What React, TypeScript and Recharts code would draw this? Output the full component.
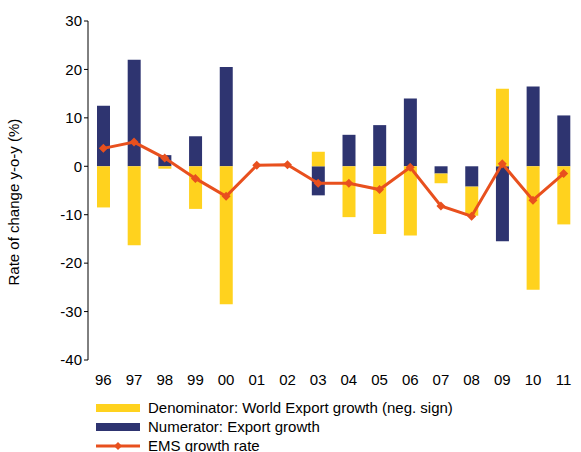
import React from "react";
import { ComposedChart, Bar, Line, XAxis, YAxis, Legend } from "recharts";

const years = ["96","97","98","99","00","01","02","03","04","05","06","07","08","09","10","11"];
const numerator = [12.5,22,2.3,6.2,20.5,0,0,-6,6.5,8.5,14,-1.5,-4.2,-15.5,16.5,10.5];
const denominator = [-8.5,-16.3,-0.5,-8.8,-28.5,0,0,3,-10.5,-14,-14.3,-2,-6,16,-25.5,-12];
const ems = [3.7,5,1.7,-2.5,-6.2,0.2,0.3,-3.5,-3.5,-4.8,-0.2,-8.2,-10.3,0.5,-7,-1.5];
const yTicks = [-40,-30,-20,-10,0,10,20,30];

const data = years.map((y, i) => ({ year: y, num: numerator[i], den: denominator[i], ems: ems[i] }));

const font = "Arial, 'Liberation Sans', sans-serif";

const LegendContent = () => (
  <div style={{ fontFamily: font, fontSize: 15, color: "#000", lineHeight: "19px", paddingLeft: 94, paddingTop: 10 }}>
    <div style={{ display: "flex", alignItems: "center" }}>
      <span style={{ width: 44, height: 8, background: "#FFD21E", display: "inline-block", marginRight: 8 }} />
      Denominator: World Export growth (neg. sign)
    </div>
    <div style={{ display: "flex", alignItems: "center" }}>
      <span style={{ width: 44, height: 8, background: "#2E3470", display: "inline-block", marginRight: 8 }} />
      Numerator: Export growth
    </div>
    <div style={{ display: "flex", alignItems: "center" }}>
      <svg width={44} height={10} style={{ marginRight: 8 }}>
        <line x1={0} y1={5} x2={44} y2={5} stroke="#E8501E" strokeWidth={3} />
        <polygon points="22,1 26,5 22,9 18,5" fill="#E8501E" />
      </svg>
      EMS growth rate
    </div>
  </div>
);

const Diamond = (p: any) => {
  const { cx, cy } = p;
  if (cx == null || cy == null) return null;
  return <polygon points={`${cx},${cy - 4.5} ${cx + 4.5},${cy} ${cx},${cy + 4.5} ${cx - 4.5},${cy}`} fill="#E8501E" />;
};

export default function App() {
  return (
    <div style={{ position: "absolute", left: 0, top: 0, background: "#fff" }}>
      <ComposedChart width={581} height={452} data={data} stackOffset="sign" barSize={13}
        margin={{ top: 21, right: 2, bottom: 0, left: 2 }}>
        <XAxis dataKey="year" axisLine={false} tickLine={false} height={28}
          tick={{ fontFamily: font, fontSize: 15, fill: "#000" }} tickMargin={8} />
        <YAxis domain={[-40, 30]} ticks={yTicks} width={86} interval={0}
          axisLine={{ stroke: "#000" }} tickLine={{ stroke: "#000" }} tickSize={4}
          tick={{ fontFamily: font, fontSize: 15, fill: "#000" }}
          label={{ value: "Rate of change y-o-y (%)", angle: -90, position: "insideLeft", offset: 12, dy: 95,
            style: { fontFamily: font, fontSize: 15, fill: "#000" } }} />
        <Bar dataKey="num" stackId="a" fill="#2E3470" isAnimationActive={false} />
        <Bar dataKey="den" stackId="a" fill="#FFD21E" isAnimationActive={false} />
        <Line dataKey="ems" stroke="#E8501E" strokeWidth={3} dot={<Diamond />} activeDot={false} isAnimationActive={false} />
        <Legend verticalAlign="bottom" align="left" height={64} content={<LegendContent />} />
      </ComposedChart>
    </div>
  );
}
